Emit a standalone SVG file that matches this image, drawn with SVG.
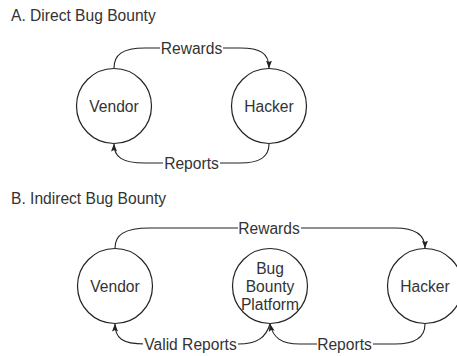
<svg xmlns="http://www.w3.org/2000/svg" width="457" height="356" viewBox="0 0 457 356">
<style>
text{font-family:"Liberation Sans",Arial,sans-serif;font-size:15.6px;fill:#333}
.node circle{fill:#fff;stroke:#222;stroke-width:1.2}
.node text,.lbl text{text-anchor:middle}
.edge{fill:none;stroke:#222;stroke-width:1.1}
.lbl rect{fill:#fff}
</style>
<defs>
<marker id="arr" viewBox="0 0 8 8" refX="7.5" refY="4" markerWidth="8" markerHeight="8" markerUnits="userSpaceOnUse" orient="auto">
<path d="M0,1 L8,4 L0,7 L1.5,4 z" fill="#222"/>
</marker>
</defs>
<rect width="457" height="356" fill="#fff"/>
<text x="11" y="21">A. Direct Bug Bounty</text>
<text x="11" y="204">B. Indirect Bug Bounty</text>
<g id="connectors">
<path class="edge" d="M114,68 C114,55 122,48 145,48 L240,48 C260,48 269,53 269,68" marker-end="url(#arr)"/>
<path class="edge" d="M269,144 C269,157 260,163 240,163 L145,163 C122,163 114,157 114,144" marker-end="url(#arr)"/>
<path class="edge" d="M115,248 C115,235 124,228 150,228 L395,228 C415,228 425,234 425,248" marker-end="url(#arr)"/>
<path class="edge" d="M270,324 C266,337 258,344 238,344 L145,344 C122,344 115,338 115,324" marker-end="url(#arr)"/>
<path class="edge" d="M425,324 C425,337 415,344 395,344 L300,344 C280,344 273,337 270,324" marker-end="url(#arr)"/>
<g class="lbl">
<rect x="160" y="40" width="63" height="16"/><text x="191.5" y="53.5">Rewards</text>
<rect x="163" y="155" width="57" height="16"/><text x="191.5" y="168.5">Reports</text>
<rect x="238" y="220" width="63" height="16"/><text x="269" y="233.5">Rewards</text>
<rect x="143" y="336" width="95" height="16"/><text x="190.5" y="349.5">Valid Reports</text>
<rect x="317" y="336" width="56" height="16"/><text x="344.5" y="349.5">Reports</text>
</g>
</g>
<g id="vendorA" class="node"><circle cx="114" cy="106" r="37.5"/><text x="114" y="111.5">Vendor</text></g>
<g id="hackerA" class="node"><circle cx="269" cy="106" r="37.5"/><text x="269" y="111.5">Hacker</text></g>
<g id="vendorB" class="node"><circle cx="115" cy="286" r="37.5"/><text x="115" y="291.5">Vendor</text></g>
<g id="platformB" class="node"><circle cx="270" cy="286" r="37.5"/><text x="270" y="273.5">Bug</text><text x="270" y="291.5">Bounty</text><text x="270" y="309.5">Platform</text></g>
<g id="hackerB" class="node"><circle cx="425" cy="286" r="37.5"/><text x="425" y="291.5">Hacker</text></g>
</svg>
